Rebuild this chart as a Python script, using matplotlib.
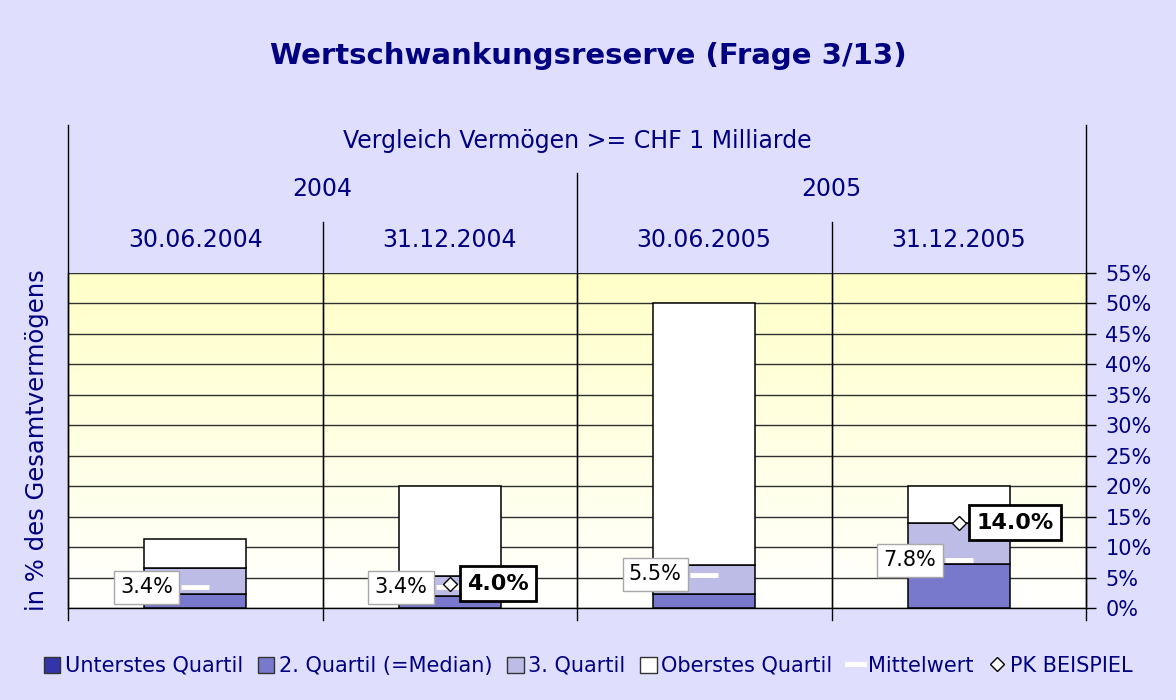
import matplotlib
matplotlib.use('Agg')
import matplotlib.pyplot as plt
import numpy as np
from matplotlib.lines import Line2D
from matplotlib.patches import Patch
from matplotlib.colors import LinearSegmentedColormap

# ---------------- data ----------------
dates = ['30.06.2004', '31.12.2004', '30.06.2005', '31.12.2005']
years = ['2004', '2005']
header = 'Vergleich Vermögen >= CHF 1 Milliarde'
minimum = [0.0, 0.0, 0.0, 0.0]          # top of "Unterstes Quartil"
median = [2.35, 1.9, 2.35, 7.3]         # top of "2. Quartil (=Median)"
quartil3 = [6.57, 5.2, 7.0, 14.0]       # top of "3. Quartil"
maximum = [11.3, 20.0, 50.0, 20.0]      # top of "Oberstes Quartil"
mittelwert = [3.4, 3.4, 5.5, 7.8]
pk_beispiel = [np.nan, 4.0, np.nan, 14.0]
yticks = [0, 5, 10, 15, 20, 25, 30, 35, 40, 45, 50, 55]
series_names = ['Unterstes Quartil', '2. Quartil (=Median)', '3. Quartil',
                'Oberstes Quartil', 'Mittelwert', 'PK BEISPIEL']

NAVY = '#000080'
BG = '#dfdffd'
COLS = ['#3333aa', '#7878cc', '#bcbce6', '#ffffff']

W, H = 1176, 700
fig = plt.figure(figsize=(W / 100, H / 100), dpi=100, facecolor=BG)
ax = fig.add_axes([68 / W, 92 / H, 1018 / W, 335 / H])
ax.set_facecolor('white')

x = np.arange(len(dates)) + 0.5
ax.set_xlim(0, 4)
ax.set_ylim(0, 55)

# gradient background
cmap = LinearSegmentedColormap.from_list('g', ['#ffffff', '#ffffc8'])
ax.imshow(np.linspace(0, 1, 256).reshape(-1, 1), extent=[0, 4, 0, 55],
          origin='lower', aspect='auto', cmap=cmap, zorder=0)

# grid
for t in yticks:
    ax.axhline(t, color='#303030', lw=1, zorder=1)
for xv in [1, 2, 3]:
    ax.axvline(xv, color='#404040', lw=1, zorder=1)

# stacked bars
mn = np.array(minimum)
md = np.array(median)
q3 = np.array(quartil3)
mx = np.array(maximum)
bw = 0.4
segs = [(np.zeros(4), mn), (mn, md - mn), (md, q3 - md), (q3, mx - q3)]
for (b, h), c in zip(segs, COLS):
    ax.bar(x, h, bottom=b, width=bw, color=c, edgecolor='black', lw=1.1, zorder=3)

# mean markers
ax.plot(x, mittelwert, ls='none', marker='_', ms=20, mew=3.5, color='white', zorder=5)
for xi, v in zip(x, mittelwert):
    ax.annotate(f'{v:.1f}%', xy=(xi, v), xytext=(-16.2, 0), textcoords='offset points',
                ha='right', va='center', fontsize=15, color='black', zorder=6,
                bbox=dict(boxstyle='square,pad=0.3', fc='white', ec='#a8a8a8', lw=1))

# PK Beispiel
ax.plot(x, pk_beispiel, ls='none', marker='D', ms=7.5, mfc='white', mec='black',
        mew=1, zorder=6)
for xi, v in zip(x, pk_beispiel):
    if not np.isnan(v):
        ax.annotate(f'{v:.1f}%', xy=(xi, v), xytext=(12.5, 0), textcoords='offset points',
                    ha='left', va='center', fontsize=16, fontweight='bold', color='black',
                    zorder=7,
                    bbox=dict(boxstyle='square,pad=0.33', fc='white', ec='black', lw=2))

# axes styling
for s in ['left', 'right', 'bottom']:
    ax.spines[s].set_color('black')
    ax.spines[s].set_linewidth(1)
ax.spines['top'].set_visible(False)
ax.set_xticks([])
ax.yaxis.tick_right()
ax.set_yticks(yticks)
ax.set_yticklabels([f'{t}%' for t in yticks])
ax.tick_params(axis='y', direction='out', length=7, width=1, color='black',
               labelcolor=NAVY, labelsize=15, pad=7)

# header lines (category axis)
tr = ax.transAxes
for xa, ytop in [(0, 1.442), (1, 1.442), (0.5, 1.299), (0.25, 1.152), (0.75, 1.152)]:
    ax.plot([xa, xa], [-0.036, ytop], transform=tr, color='black', lw=1,
            clip_on=False, zorder=2)

ax.text(0.5, 1.394, header, transform=tr, ha='center', va='center',
        fontsize=17, color=NAVY)
for i, yr in enumerate(years):
    ax.text(0.25 + 0.5 * i, 1.251, yr, transform=tr, ha='center', va='center',
            fontsize=17, color=NAVY)
for i, d in enumerate(dates):
    ax.text(0.125 + 0.25 * i, 1.099, d, transform=tr, ha='center', va='center',
            fontsize=17, color=NAVY)

fig.text(37 / W, 1 - 440 / H, 'in % des Gesamtvermögens', rotation=90,
         ha='center', va='center', fontsize=17.5, color=NAVY)
fig.text(0.5, 1 - 56 / H, 'Wertschwankungsreserve (Frage 3/13)', ha='center',
         va='center', fontsize=21, fontweight='bold', color=NAVY)

# legend
handles = [Patch(fc=c, ec='#333333', lw=1) for c in COLS]
handles.append(Line2D([], [], color='white', lw=3.5))
handles.append(Line2D([], [], ls='none', marker='D', ms=7, mfc='white', mec='black', mew=1))
fig.legend(handles, series_names, loc='center', bbox_to_anchor=(0.5, 1 - 666 / H),
           ncol=6, frameon=False, fontsize=15, labelcolor=NAVY,
           handlelength=0.8, handleheight=0.8, handletextpad=0.22, columnspacing=0.7)

fig.savefig('out.png', dpi=100, facecolor=BG)
